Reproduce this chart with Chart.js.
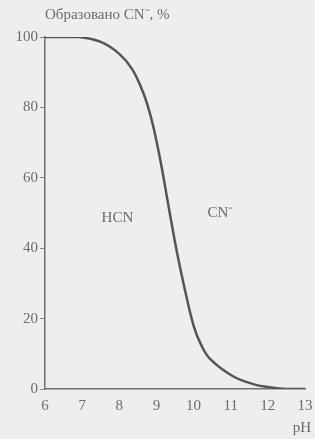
<!DOCTYPE html>
<html>
<head>
<meta charset="utf-8">
<script src="https://cdn.jsdelivr.net/npm/chart.js@4"></script>
<style>
  html, body { margin: 0; padding: 0; background: #eeeeee; }
  #wrap { width: 315px; height: 439px; }
</style>
</head>
<body>
<div id="wrap"><canvas id="myChart" width="315" height="439"></canvas></div>
<script>
// pH values and %
const phValues = [6, 6.9, 7.5, 8.0, 8.35, 8.65, 8.85, 9.0, 9.15, 9.35, 9.55, 9.75, 10.0, 10.2, 10.45, 11.05, 11.6, 12.05, 12.5, 13];
const percent = [100, 100, 98.6, 95.2, 90.8, 84.0, 77.3, 70.5, 62.5, 50.5, 39, 29, 18, 12.6, 8.5, 3.7, 1.4, 0.5, 0, 0];
const xTicks = [6, 7, 8, 9, 10, 11, 12, 13];
const yTicks = [0, 20, 40, 60, 80, 100];
const titleText = 'Образовано CN⁻, %';
const regionLabels = [
    { text: 'HCN', x: 7.95, y: 48.5 },
    { text: 'CN⁻', x: 10.72, y: 50 }
];

const textColor = '#6b6b6b';
const font = { family: '"Liberation Serif", "DejaVu Serif", serif', size: 15 };

const labelsPlugin = {
    id: 'labels',
    afterDraw(chart) {
        const ctx = chart.ctx;
        const xs = chart.scales.x, ys = chart.scales.y;
        ctx.save();
        ctx.fillStyle = textColor;
        ctx.font = '15px "Liberation Serif", serif';
        ctx.textBaseline = 'middle';
        ctx.textAlign = 'left';
        ctx.fillText(titleText, 45, 15);
        ctx.textAlign = 'center';
        regionLabels.forEach(l => {
            ctx.fillText(l.text, xs.getPixelForValue(l.x), ys.getPixelForValue(l.y));
        });
        ctx.fillText('pH', 302, 428);
        ctx.restore();
    }
};

new Chart(document.getElementById('myChart').getContext('2d'), {
    type: 'line',
    data: {
        datasets: [{
            data: phValues.map((x, i) => ({ x: x, y: percent[i] })),
            borderColor: '#555555',
            borderWidth: 2.5,
            pointRadius: 0,
            fill: false,
            tension: 0.4
        }]
    },
    options: {
        responsive: false,
        animation: false,
        layout: { padding: { top: 37, right: 10, left: 0, bottom: 0 } },
        plugins: { legend: { display: false }, tooltip: { enabled: false } },
        scales: {
            x: {
                type: 'linear',
                min: 6,
                max: 13,
                afterBuildTicks: s => { s.ticks = xTicks.map(v => ({ value: v })); },
                afterFit: s => { s.height = 50; s.paddingRight = 0; s.paddingLeft = 0; },
                grid: { drawOnChartArea: false, drawTicks: false },
                border: { color: '#707070', width: 1.5 },
                ticks: { color: textColor, font: font, padding: 8, maxRotation: 0 }
            },
            y: {
                min: 0,
                max: 100,
                afterBuildTicks: s => { s.ticks = yTicks.map(v => ({ value: v })); },
                afterFit: s => { s.width = 45; },
                grid: { drawOnChartArea: false, tickLength: 5, tickColor: '#888888' },
                border: { color: '#707070', width: 1.5 },
                ticks: { color: textColor, font: font, padding: 2 }
            }
        }
    },
    plugins: [labelsPlugin]
});
</script>
</body>
</html>
